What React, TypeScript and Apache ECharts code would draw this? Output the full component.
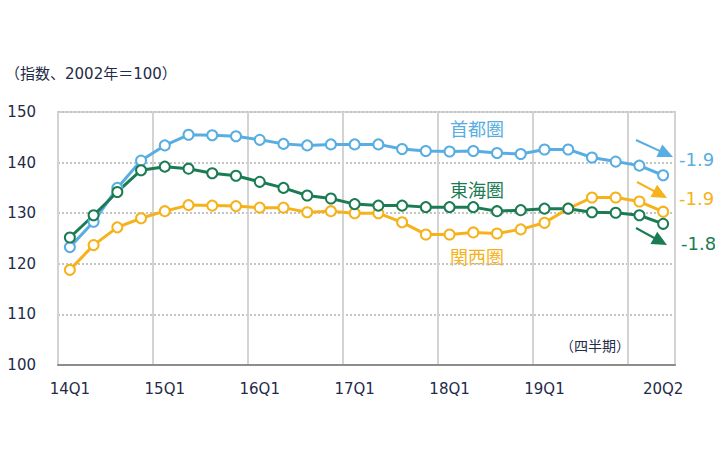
import React, { useEffect, useRef } from "react";
import * as echarts from "echarts";

const categories = [
  "14Q1", "14Q2", "14Q3", "14Q4",
  "15Q1", "15Q2", "15Q3", "15Q4",
  "16Q1", "16Q2", "16Q3", "16Q4",
  "17Q1", "17Q2", "17Q3", "17Q4",
  "18Q1", "18Q2", "18Q3", "18Q4",
  "19Q1", "19Q2", "19Q3", "19Q4",
  "20Q1", "20Q2",
];

const shutoken = [
  123.3, 128.3, 135.0, 140.4, 143.4, 145.5, 145.4, 145.2, 144.5, 143.7, 143.4, 143.6,
  143.6, 143.6, 142.7, 142.3, 142.2, 142.3, 141.9, 141.7, 142.6, 142.6, 141.0, 140.2,
  139.4, 137.5,
];

const tokaiken = [
  125.2, 129.6, 134.2, 138.5, 139.2, 138.8, 137.9, 137.4, 136.2, 135.0, 133.5, 132.9,
  131.8, 131.5, 131.5, 131.2, 131.2, 131.2, 130.4, 130.6, 130.9, 130.9, 130.2, 130.1,
  129.6, 127.9,
];

const kansaiken = [
  118.8, 123.7, 127.2, 129.0, 130.4, 131.6, 131.5, 131.4, 131.1, 131.1, 130.2, 130.4,
  130.0, 130.0, 128.2, 125.8, 125.8, 126.2, 126.0, 126.8, 128.1, 130.9, 133.1, 133.1,
  132.3, 130.3,
];

const labelIndices = [0, 4, 8, 12, 16, 20, 25];
const changes = ["-1.9", "-1.9", "-1.8"];

const BLUE = "#58ade2";
const GREEN = "#1b7c54";
const ORANGE = "#f5b21b";
const TEXT = "#1f2b48";
const FONT = "'DejaVu Sans', 'Noto Sans CJK JP', sans-serif";

function arrow(x1: number, y1: number, x2: number, y2: number, color: string) {
  const dx = x2 - x1;
  const dy = y2 - y1;
  const len = Math.sqrt(dx * dx + dy * dy);
  const ux = dx / len;
  const uy = dy / len;
  const hl = 15;
  const hw = 7;
  const bx = x2 - ux * hl;
  const by = y2 - uy * hl;
  return [
    {
      type: "line",
      shape: { x1, y1, x2: bx + ux * 2, y2: by + uy * 2 },
      style: { stroke: color, lineWidth: 2 },
    },
    {
      type: "polygon",
      shape: {
        points: [
          [x2, y2],
          [bx - uy * hw, by + ux * hw],
          [bx + uy * hw, by - ux * hw],
        ],
      },
      style: { fill: color },
    },
  ];
}

function seriesOf(name: string, data: number[], color: string) {
  return {
    name,
    type: "line",
    data,
    symbol: "circle",
    symbolSize: 10,
    showSymbol: true,
    lineStyle: { color, width: 3 },
    itemStyle: { color: "#ffffff", borderColor: color, borderWidth: 2 },
    emphasis: { disabled: true },
  };
}

export default function App() {
  const ref = useRef<HTMLDivElement>(null);

  useEffect(() => {
    if (!ref.current) return;
    const chart = echarts.init(ref.current, null, { renderer: "svg" });
    chart.setOption({
      animation: false,
      grid: {
        left: 58,
        right: 48,
        top: 112,
        bottom: 85,
        show: true,
        borderColor: "#d3d3d3",
        borderWidth: 2,
        backgroundColor: "transparent",
      },
      xAxis: {
        type: "category",
        data: categories,
        boundaryGap: true,
        axisLine: { show: true, lineStyle: { color: "#8c8c8c", width: 2 } },
        axisTick: { show: false },
        axisLabel: {
          interval: (i: number) => labelIndices.includes(i),
          color: TEXT,
          fontSize: 15,
          fontFamily: FONT,
          margin: 16,
        },
        splitLine: {
          show: true,
          interval: (i: number) => i % 4 === 0,
          lineStyle: { color: "#d3d3d3", width: 2 },
        },
      },
      yAxis: {
        type: "value",
        min: 100,
        max: 150,
        interval: 10,
        axisLine: { show: false },
        axisTick: { show: false },
        axisLabel: {
          color: TEXT,
          fontSize: 15,
          fontFamily: FONT,
          margin: 22,
        },
        splitLine: {
          show: true,
          lineStyle: { color: "#c4c4c4", width: 2, type: [2, 2] },
        },
      },
      series: [
        seriesOf("首都圏", shutoken, BLUE),
        seriesOf("関西圏", kansaiken, ORANGE),
        seriesOf("東海圏", tokaiken, GREEN),
      ],
      graphic: [
        {
          type: "text",
          left: 5,
          top: 66,
          style: { text: "（指数、2002年＝100）", fill: TEXT, fontSize: 15, fontFamily: FONT },
        },
        {
          type: "text",
          x: 595,
          y: 346,
          style: {
            text: "（四半期）",
            fill: TEXT,
            fontSize: 14,
            fontFamily: FONT,
            align: "center",
            verticalAlign: "middle",
          },
        },
        {
          type: "text",
          x: 477,
          y: 129,
          style: { text: "首都圏", fill: BLUE, fontSize: 18, fontFamily: FONT, align: "center", verticalAlign: "middle" },
        },
        {
          type: "text",
          x: 477,
          y: 190,
          style: { text: "東海圏", fill: GREEN, fontSize: 18, fontFamily: FONT, align: "center", verticalAlign: "middle" },
        },
        {
          type: "text",
          x: 477,
          y: 257,
          style: { text: "関西圏", fill: ORANGE, fontSize: 18, fontFamily: FONT, align: "center", verticalAlign: "middle" },
        },
        ...arrow(636, 140, 673, 157, BLUE),
        ...arrow(637, 182, 667, 198, ORANGE),
        ...arrow(636, 228, 667, 245, GREEN),
        {
          type: "text",
          x: 679,
          y: 159,
          style: { text: changes[0], fill: BLUE, fontSize: 18, fontFamily: FONT, verticalAlign: "middle" },
        },
        {
          type: "text",
          x: 679,
          y: 198,
          style: { text: changes[1], fill: ORANGE, fontSize: 18, fontFamily: FONT, verticalAlign: "middle" },
        },
        {
          type: "text",
          x: 681,
          y: 243,
          style: { text: changes[2], fill: GREEN, fontSize: 18, fontFamily: FONT, verticalAlign: "middle" },
        },
      ],
    });
    return () => chart.dispose();
  }, []);

  return <div ref={ref} style={{ width: 723, height: 450, margin: -8 }} />;
}
